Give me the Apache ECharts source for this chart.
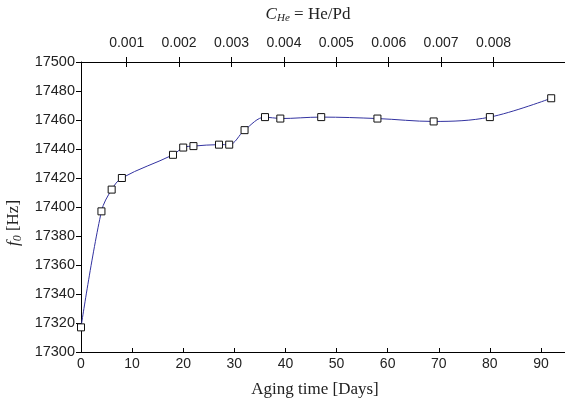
<!DOCTYPE html>
<html><head><meta charset="utf-8">
<script src="https://cdn.jsdelivr.net/npm/echarts@6/dist/echarts.min.js"></script>
<style>html,body{margin:0;padding:0;background:#fff}#c{width:565px;height:406px}</style>
</head><body><div id="c"></div>
<script>
const days = [0, 4, 6, 8, 18, 20, 22, 27, 29, 32, 36, 39, 47, 58, 69, 80, 92];
const freq = [17317, 17397, 17412, 17420, 17436, 17441, 17442, 17443, 17443, 17453, 17462, 17461, 17462, 17461, 17459, 17462, 17475];
const topTicks = [0.001, 0.002, 0.003, 0.004, 0.005, 0.006, 0.007, 0.008];
const yTicks = [17300, 17320, 17340, 17360, 17380, 17400, 17420, 17440, 17460, 17480, 17500];
const xTicks = [0, 10, 20, 30, 40, 50, 60, 70, 80, 90];

const sans = 'Liberation Sans, Arial, sans-serif';
const serif = 'Liberation Serif, Times New Roman, serif';
const txt = '#222';

const chart = echarts.init(document.getElementById('c'));
const topMin = 0.000128, topMax = 0.009364;
chart.setOption({
  animation: false,
  grid: {left: 81, right: 0, top: 62, bottom: 54},
  xAxis: [{
    type: 'value', min: 0, max: 94.7, position: 'bottom',
    axisLine: {lineStyle: {color: '#000', width: 1}},
    axisTick: {inside: true, length: 4, lineStyle: {color: '#000'}, customValues: xTicks},
    axisLabel: {color: txt, fontFamily: sans, fontSize: 14, margin: 5, customValues: xTicks},
    splitLine: {show: false},
    name: 'Aging time [Days]', nameLocation: 'middle', nameGap: 29,
    nameTextStyle: {fontFamily: serif, fontSize: 17, color: txt, padding: [0, 16, 0, 0]}
  }, {
    type: 'value', min: topMin, max: topMax, position: 'top',
    axisLine: {lineStyle: {color: '#000', width: 1}},
    axisTick: {inside: false, length: 5, lineStyle: {color: '#000'}, customValues: topTicks},
    axisLabel: {color: txt, fontFamily: sans, fontSize: 14, margin: 12, customValues: topTicks,
      formatter: v => v.toFixed(3)},
    splitLine: {show: false}
  }, {
    type: 'value', min: topMin, max: topMax, position: 'top',
    axisLine: {show: false},
    axisTick: {inside: true, length: 5, lineStyle: {color: '#000'}, customValues: topTicks},
    axisLabel: {show: false},
    splitLine: {show: false}
  }],
  yAxis: {
    type: 'value', min: 17300, max: 17500, interval: 20,
    axisLine: {show: true, lineStyle: {color: '#000', width: 1}},
    axisTick: {show: true, inside: false, length: 5, lineStyle: {color: '#000'}, customValues: yTicks},
    axisLabel: {color: txt, fontFamily: sans, fontSize: 14.5, margin: 6, customValues: yTicks,
      formatter: v => String(v)},
    splitLine: {show: false}
  },
  title: [{
    text: '{i|C}{s|He}{n| = He/Pd}',
    left: 303, top: 1, textAlign: 'center',
    textStyle: {fontWeight: 'normal', rich: {
      i: {fontFamily: serif, fontStyle: 'italic', fontWeight: 'normal', fontSize: 17, color: txt},
      s: {fontFamily: serif, fontStyle: 'italic', fontWeight: 'normal', fontSize: 11, color: txt, padding: [7, 0, 0, 0]},
      n: {fontFamily: serif, fontWeight: 'normal', fontSize: 17, color: txt}
    }}
  }],
  graphic: [{
    type: 'text', x: 14, y: 223, rotation: Math.PI / 2,
    style: {
      text: '{i|f}{s|0}{n| [Hz]}', align: 'center', verticalAlign: 'middle',
      rich: {
        i: {fontFamily: serif, fontStyle: 'italic', fontSize: 17, fill: txt},
        s: {fontFamily: serif, fontStyle: 'italic', fontSize: 12, fill: txt, padding: [7, 0, 0, 0]},
        n: {fontFamily: serif, fontSize: 17, fill: txt}
      }
    }
  }],
  series: [{
    type: 'line', xAxisIndex: 0,
    data: days.map((d, i) => [d, freq[i]]),
    smooth: 0.35,
    symbol: 'rect', symbolSize: 7,
    lineStyle: {color: '#3232a0', width: 1},
    itemStyle: {color: '#fff', borderColor: '#111', borderWidth: 1}
  }]
});
</script></body></html>
